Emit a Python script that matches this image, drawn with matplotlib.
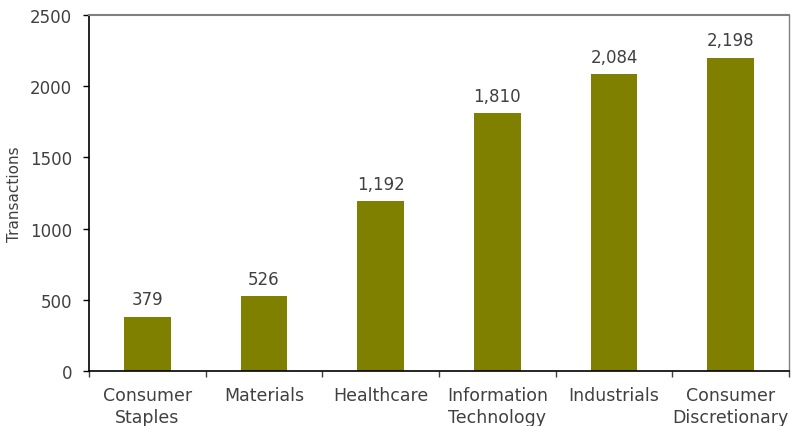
import numpy as np
import matplotlib.pyplot as plt
from matplotlib.ticker import FixedLocator

# Transazioni per settore
categories = ['Consumer\nStaples', 'Materials', 'Healthcare', 'Information\nTechnology',
              'Industrials', 'Consumer\nDiscretionary']
transactions = [379, 526, 1192, 1810, 2084, 2198]
y_ticks = [0, 500, 1000, 1500, 2000, 2500]

plt.rcParams['font.family'] = ['DejaVu Sans']
text_color = '#404040'

fig = plt.figure(figsize=(7.91, 4.27), dpi=100)
ax = fig.add_axes([0.1125, 0.1288, 0.8850, 0.8337])

x = np.arange(len(categories))
bars = ax.bar(x, transactions, width=0.4, color='#808000')

for xi, v in zip(x, transactions):
    ax.text(xi, v + 60, f'{v:,}', ha='center', va='bottom', fontsize=12, color=text_color)

ax.set_xlim(-0.5, len(categories) - 0.5)
ax.set_ylim(0, 2500)
ax.set_yticks(y_ticks)
ax.set_xticks(x)
ax.set_xticklabels(categories, fontsize=12.5, color=text_color, linespacing=1.3)
ax.xaxis.set_minor_locator(FixedLocator(np.arange(-0.5, len(categories), 1.0)))
ax.tick_params(axis='x', which='major', length=0, pad=11)
ax.tick_params(axis='x', which='minor', length=4, width=1, color='#404040')
ax.tick_params(axis='y', length=4, width=1, pad=8, labelsize=12, labelcolor=text_color)
ax.set_ylabel('Transactions', fontsize=11, color=text_color, labelpad=6)

ax.spines['left'].set_color('black')
ax.spines['bottom'].set_color('black')
ax.spines['left'].set_linewidth(1.2)
ax.spines['bottom'].set_linewidth(1.2)
ax.spines['top'].set_color('#808080')
ax.spines['right'].set_color('#808080')
ax.spines['top'].set_linewidth(1.5)
ax.spines['right'].set_linewidth(1.0)

fig.savefig('out.png', dpi=100)
